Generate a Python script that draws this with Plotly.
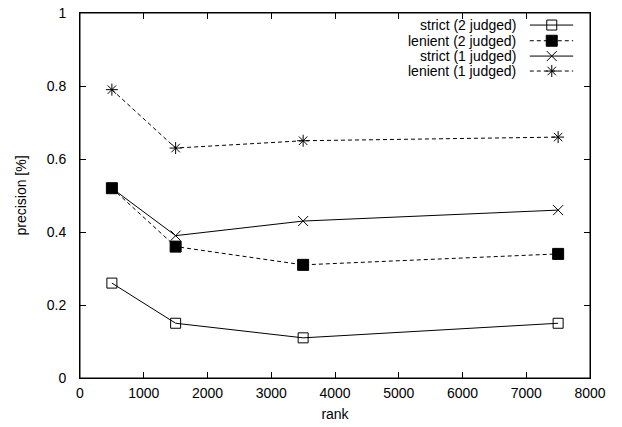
import plotly.graph_objects as go

ranks = [500, 1500, 3500, 7500]
strict_2 = [0.26, 0.15, 0.11, 0.15]
lenient_2 = [0.52, 0.36, 0.31, 0.34]
strict_1 = [0.52, 0.39, 0.43, 0.46]
lenient_1 = [0.79, 0.63, 0.65, 0.66]

series_names = ["strict (2 judged)", "lenient (2 judged)", "strict (1 judged)", "lenient (1 judged)"]
series_vals = [strict_2, lenient_2, strict_1, lenient_1]
symbols = ["square-open", "square", "x-thin-open", "asterisk-open"]
sizes = [10, 11, 10, 10]
dashes = ["solid", "4px,3px", "solid", "4px,3px"]

X_RANGE = [0, 8000]
Y_RANGE = [0, 1]

FONT = "Liberation Sans, Arial"
FS = 14

fig = go.Figure()
for name, vals, sym, sz, dash in zip(series_names, series_vals, symbols, sizes, dashes):
    fig.add_trace(go.Scatter(
        x=ranks, y=vals, mode="lines+markers", name=name, showlegend=False,
        line=dict(color="black", width=1, dash=dash),
        marker=dict(symbol=sym, size=sz, color="black", line=dict(color="black", width=1)),
    ))


def fx(f):
    return X_RANGE[0] + f * (X_RANGE[1] - X_RANGE[0])


def fy(f):
    return Y_RANGE[0] + f * (Y_RANGE[1] - Y_RANGE[0])


# gnuplot-style key: right-aligned text, sample to the right (positions as fractions of the plot area)
row_y = [0.967, 0.924, 0.882, 0.841]
for name, sym, sz, dash, yy in zip(series_names, symbols, sizes, dashes, row_y):
    fig.add_trace(go.Scatter(
        x=[fx(0.882), fx(0.967)], y=[fy(yy), fy(yy)], mode="lines",
        showlegend=False, hoverinfo="skip",
        line=dict(color="black", width=1, dash=dash),
    ))
    fig.add_trace(go.Scatter(
        x=[fx(0.925)], y=[fy(yy)], mode="markers",
        showlegend=False, hoverinfo="skip",
        marker=dict(symbol=sym, size=sz, color="black", line=dict(color="black", width=1)),
    ))
    fig.add_annotation(
        x=0.859, y=yy, xref="paper", yref="paper", text=name, showarrow=False,
        xanchor="right", yanchor="middle",
        font=dict(family=FONT, size=FS, color="black"),
    )

# empty trace so the top/right frame axes are drawn
fig.add_trace(go.Scatter(x=[None], y=[None], xaxis="x2", yaxis="y2",
                         showlegend=False, hoverinfo="skip", mode="markers"))

axis_common = dict(
    showgrid=False, zeroline=False, showline=True, linecolor="black", linewidth=1,
    mirror="ticks", ticks="inside", ticklen=6, tickcolor="black", tickwidth=1,
    tickfont=dict(family=FONT, size=FS, color="black"), automargin=False,
    ticklabeloverflow="allow",
)

frame_axis = dict(
    showgrid=False, zeroline=False, showline=True, linecolor="black", linewidth=1,
    ticks="inside", ticklen=6, tickcolor="black", tickwidth=1,
    showticklabels=False, automargin=False, fixedrange=True,
)

fig.update_layout(
    width=622, height=427,
    margin=dict(l=80, r=32, t=13, b=49),
    paper_bgcolor="white", plot_bgcolor="white",
    xaxis=dict(range=X_RANGE, dtick=1000, ticklabelstandoff=2,
               title=dict(text="rank", font=dict(family=FONT, size=FS, color="black"), standoff=9),
               **axis_common),
    yaxis=dict(range=Y_RANGE, dtick=0.2, tickformat="~g", ticklabelstandoff=10,
               title=dict(text="precision [%]", font=dict(family=FONT, size=FS, color="black"), standoff=16),
               **axis_common),
    xaxis2=dict(range=X_RANGE, dtick=1000, overlaying="x", side="top", anchor="y2", **frame_axis),
    yaxis2=dict(range=Y_RANGE, dtick=0.2, overlaying="y", side="right", anchor="x2", **frame_axis),
    shapes=[dict(type="rect", xref="paper", yref="paper", x0=0, x1=1, y0=0, y1=1,
                 line=dict(color="black", width=1), layer="above")],
    showlegend=False,
)

# remove the browser's default 8px body margin so the figure fills the window
fig.write_html(
    "out.html",
    config={"displayModeBar": False},
    post_script="document.body.style.margin='0';document.body.style.overflow='hidden';",
)
